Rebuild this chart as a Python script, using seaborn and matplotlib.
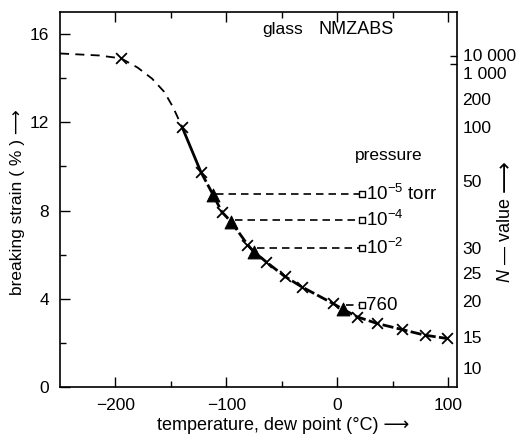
import matplotlib
matplotlib.use("Agg")
import matplotlib.pyplot as plt
import seaborn as sns
import pandas as pd
import numpy as np

# ---- data ----
# upper dashed part of the curve (temperature, strain)
curve_x = [-250, -215, -195, -180, -167, -156, -148, -140]
curve_y = [15.12, 15.03, 14.9, 14.48, 13.98, 13.38, 12.68, 11.8]

# crosses
cross_x = [-195, -140, -123, -104, -81, -64, -47.5, -32, -4, 18, 36, 58, 79, 99]
cross_y = [14.9, 11.8, 9.75, 7.93, 6.46, 5.67, 5.02, 4.54, 3.79, 3.18, 2.88, 2.61, 2.35, 2.2]

# filled triangles (pressure points)
tri_x = [-112, -95.5, -75, 5]
tri_y = [8.72, 7.48, 6.12, 3.53]

# open squares with pressure labels
sq_x = [22, 22, 22, 22]
sq_y = [8.77, 7.56, 6.29, 3.71]
pressure_labels = [r"$10^{-5}$ torr", r"$10^{-4}$", r"$10^{-2}$", "760"]

# right axis: N-value ticks (position on strain scale, label)
n_tick_pos = [15.0, 14.65, 13.06, 11.78, 9.35, 6.3, 5.15, 3.9, 2.27, 0.86]
n_label_pos = [15.05, 14.25, 13.06, 11.78, 9.35, 6.3, 5.15, 3.9, 2.27, 0.86]
n_labels = ["10 000", "1 000", "200", "100", "50", "30", "25", "20", "15", "10"]

x_ticks = [-200, -100, 0, 100]
x_tick_labels = ["\u2212200", "\u2212100", "0", "100"]
y_ticks = [0, 4, 8, 12, 16]

# ---- styling ----
sns.set_theme(style="ticks")
plt.rcParams['font.family'] = ['Liberation Sans', 'DejaVu Sans']
plt.rcParams['mathtext.fontset'] = 'custom'
plt.rcParams['mathtext.rm'] = 'Liberation Sans'
plt.rcParams['mathtext.it'] = 'Liberation Sans:italic'
plt.rcParams['text.color'] = 'black'
plt.rcParams['xtick.color'] = 'black'
plt.rcParams['ytick.color'] = 'black'
plt.rcParams['xtick.labelcolor'] = 'black'
plt.rcParams['ytick.labelcolor'] = 'black'

fig = plt.figure(figsize=(5.19, 4.37), dpi=100)
ax = fig.add_axes([60/519, 1-387/437, 397/519, 375/437])

df_curve = pd.DataFrame({"t": curve_x, "s": curve_y})
df_pts = pd.DataFrame({"t": cross_x + tri_x, "s": cross_y + tri_y}).sort_values("t")
df_solid = df_pts[(df_pts.t >= -140) & (df_pts.t <= -123)]
df_lower = df_pts[df_pts.t >= -123]

sns.lineplot(data=df_curve, x="t", y="s", ax=ax, color="black", lw=1.3,
             sort=False, estimator=None)
ax.lines[-1].set_dashes((5, 3.5))
sns.lineplot(data=df_solid, x="t", y="s", ax=ax, color="black", lw=2.0,
             sort=False, estimator=None)
sns.lineplot(data=df_lower, x="t", y="s", ax=ax, color="black", lw=2.0,
             sort=False, estimator=None)
ax.lines[-1].set_dashes((4, 1.2))

# horizontal dashed connections from triangles to squares
for tx, sy, sx in zip(tri_x, sq_y, sq_x):
    ax.plot([tx + 3, sx - 2], [sy, sy], color="black", lw=1.2, dashes=(4.5, 3))

sns.scatterplot(x=cross_x, y=cross_y, ax=ax, marker="x", s=60, color="black",
                linewidth=1.3, zorder=5)
sns.scatterplot(x=tri_x, y=tri_y, ax=ax, marker="^", s=85, color="black",
                edgecolor="black", zorder=6)
sns.scatterplot(x=sq_x, y=sq_y, ax=ax, marker="s", s=24, facecolor="white",
                edgecolor="black", linewidth=1.0, zorder=6)

for sx, sy, lab in zip(sq_x, sq_y, pressure_labels):
    ax.text(sx + 4, sy, lab, fontsize=13.5, va="center", ha="left")

ax.text(16, 10.5, "pressure", fontsize=12.5, va="center", ha="left")
ax.text(-68, 16.2, "glass", fontsize=12.5, va="center", ha="left")
ax.text(-17, 16.2, "NMZABS", fontsize=13, va="center", ha="left")

ax.set_xlim(-250, 108)
ax.set_ylim(0, 17)
ax.set_xticks(x_ticks)
ax.set_xticks([-150, -50, 50], minor=True)
ax.set_yticks(y_ticks)
ax.set_yticks([2, 6, 10, 14], minor=True)
ax.set_xlabel("")
ax.set_ylabel("")
ax.tick_params(axis="both", which="major", direction="in", length=7, width=1.0,
               labelsize=12.5, pad=8, top=True, right=False)
ax.tick_params(axis="both", which="minor", direction="in", length=4, width=1.0,
               top=True, right=False)
ax.set_xticklabels(x_tick_labels)
for sp in ax.spines.values():
    sp.set_visible(True)
    sp.set_linewidth(1.2)
    sp.set_color("black")

# right N-value axis
ax2 = ax.twinx()
ax2.set_ylim(0, 17)
ax2.set_yticks(n_label_pos)
ax2.set_yticklabels(n_labels)
ax2.tick_params(axis="y", which="major", length=0, labelsize=12.5, pad=4)
ax2.set_yticks(n_tick_pos, minor=True)
ax2.tick_params(axis="y", which="minor", direction="in", length=5, width=1.0)
for sp in ax2.spines.values():
    sp.set_visible(False)

fig.text(283/519, 1-425/437, "temperature, dew point (\u00b0C) \u27f6", fontsize=13,
         ha="center", va="center")
fig.text(18/519, 1-202/437, "breaking strain ( % ) \u27f6", fontsize=12.5,
         ha="center", va="center", rotation=90)
fig.text(505/519, 1-240/437, "$N$ \u2014 value", fontsize=13,
         ha="center", va="center", rotation=90)
fig.text(505/519, 1-176/437, "\u27f6", fontsize=16,
         ha="center", va="center", rotation=90)

fig.savefig("out.png", dpi=100)
